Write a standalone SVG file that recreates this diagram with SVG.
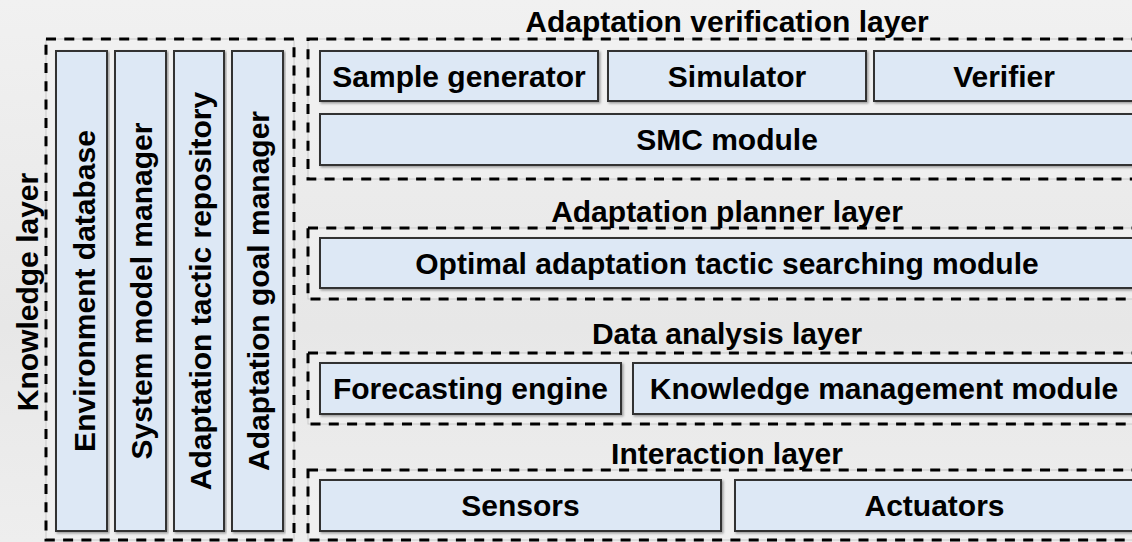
<svg xmlns="http://www.w3.org/2000/svg" width="1132" height="542" viewBox="0 0 1132 542">
<defs>
<linearGradient id="bg" x1="0" y1="0" x2="0" y2="1">
<stop offset="0" stop-color="#f1f1f1"/>
<stop offset="0.6" stop-color="#e7e7e7"/>
<stop offset="1" stop-color="#eeeeee"/>
</linearGradient>
<filter id="sh" x="-5%" y="-5%" width="110%" height="120%">
<feDropShadow dx="1.5" dy="1.5" stdDeviation="1.2" flood-color="#000" flood-opacity="0.35"/>
</filter>
</defs>
<style>
.under{fill:#f2f2f2;fill-opacity:0.6;stroke:#c8c8c8;stroke-width:1}
.layer{fill:none;stroke:#000;stroke-width:3;stroke-dasharray:10 8.3}
.box{fill:#dde8f5;stroke:#333;stroke-width:2;filter:url(#sh)}
.t{font-family:"Liberation Sans",Arial,sans-serif;font-weight:bold;font-size:30px;fill:#000;text-anchor:middle}
</style>
<rect x="0" y="0" width="1132" height="542" fill="url(#bg)"/>

<g id="knowledge-layer">
<rect class="under" x="46" y="39" width="248" height="501"/>
<rect class="layer" x="46" y="39" width="248" height="501"/>
<text class="t" transform="translate(38,292) rotate(-90)">Knowledge layer</text>
</g>
<g id="environment-database">
<rect class="box" x="56" y="51" width="51" height="480"/>
<text class="t" transform="translate(94.5,291) rotate(-90)">Environment database</text>
</g>
<g id="system-model-manager">
<rect class="box" x="115" y="51" width="51" height="480"/>
<text class="t" transform="translate(152,291) rotate(-90)">System model manager</text>
</g>
<g id="adaptation-tactic-repository">
<rect class="box" x="174" y="51" width="50" height="480"/>
<text class="t" transform="translate(210.5,291) rotate(-90)">Adaptation tactic repository</text>
</g>
<g id="adaptation-goal-manager">
<rect class="box" x="232" y="51" width="51" height="480"/>
<text class="t" transform="translate(268.5,291) rotate(-90)">Adaptation goal manager</text>
</g>

<g id="verification-layer">
<rect class="under" x="308" y="39" width="840" height="140"/>
<rect class="layer" x="308" y="39" width="840" height="140"/>
<text class="t" x="727" y="32">Adaptation verification layer</text>
</g>
<g id="sample-generator">
<rect class="box" x="320" y="51" width="278" height="50"/>
<text class="t" x="459" y="87">Sample generator</text>
</g>
<g id="simulator">
<rect class="box" x="608" y="51" width="258" height="50"/>
<text class="t" x="737" y="87">Simulator</text>
</g>
<g id="verifier">
<rect class="box" x="874" y="51" width="260" height="50"/>
<text class="t" x="1004" y="87">Verifier</text>
</g>
<g id="smc-module">
<rect class="box" x="320" y="114" width="814" height="51"/>
<text class="t" x="727" y="150">SMC module</text>
</g>

<g id="planner-layer">
<rect class="under" x="308" y="228" width="840" height="71"/>
<rect class="layer" x="308" y="228" width="840" height="71"/>
<text class="t" x="727" y="222">Adaptation planner layer</text>
</g>
<g id="optimal-adaptation-tactic-searching-module">
<rect class="box" x="320" y="238" width="814" height="50"/>
<text class="t" x="727" y="274">Optimal adaptation tactic searching module</text>
</g>

<g id="data-analysis-layer">
<rect class="under" x="308" y="353" width="840" height="71"/>
<rect class="layer" x="308" y="353" width="840" height="71"/>
<text class="t" x="727" y="344">Data analysis layer</text>
</g>
<g id="forecasting-engine">
<rect class="box" x="320" y="363" width="301" height="51"/>
<text class="t" x="470.5" y="399">Forecasting engine</text>
</g>
<g id="knowledge-management-module">
<rect class="box" x="633" y="363" width="501" height="51"/>
<text class="t" x="884" y="399">Knowledge management module</text>
</g>

<g id="interaction-layer">
<rect class="under" x="308" y="470" width="840" height="70"/>
<rect class="layer" x="308" y="470" width="840" height="70"/>
<text class="t" x="727" y="464">Interaction layer</text>
</g>
<g id="sensors">
<rect class="box" x="320" y="480" width="401" height="51"/>
<text class="t" x="520.5" y="516">Sensors</text>
</g>
<g id="actuators">
<rect class="box" x="735" y="480" width="399" height="51"/>
<text class="t" x="934.5" y="516">Actuators</text>
</g>

<g id="connectors"></g>
</svg>
